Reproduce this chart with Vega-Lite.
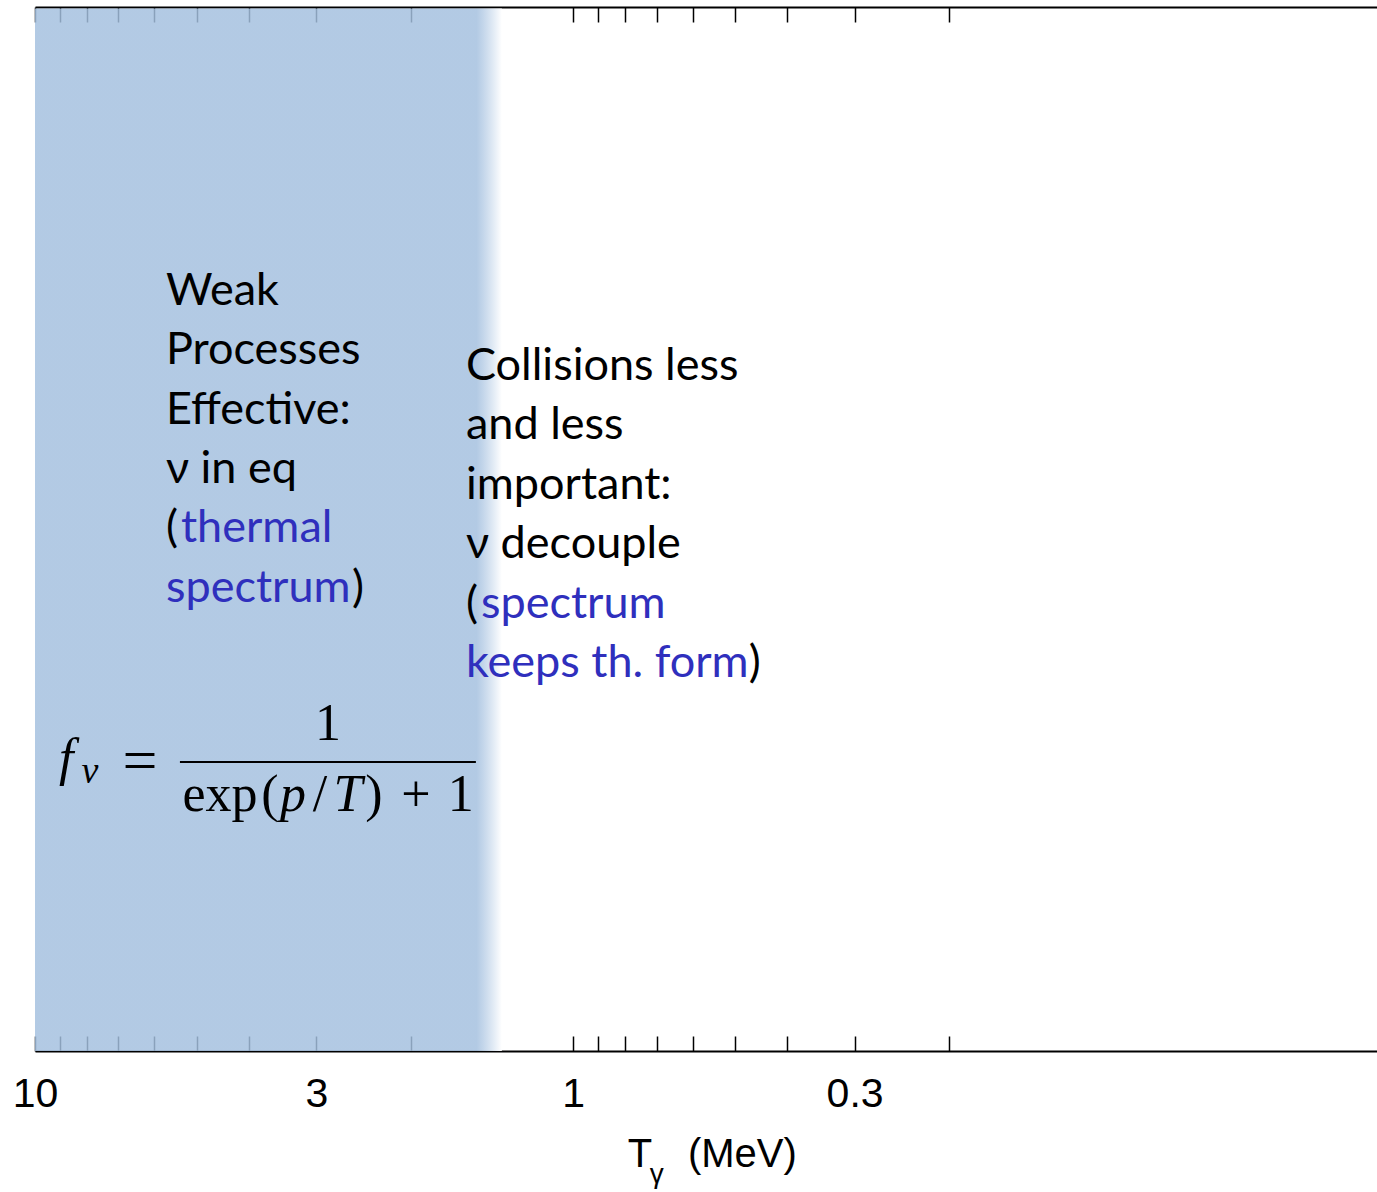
{
  "$schema": "https://vega.github.io/schema/vega-lite/v6.json",
  "width": 1342,
  "height": 1044,
  "autosize": {"type": "none"},
  "padding": {"left": 35, "top": 7, "right": 0, "bottom": 141},
  "background": "white",
  "config": {"view": {"stroke": null}},
  "datasets": {
    "band": [{"start": 10, "end": 1.357, "low": 1.395, "high": 8.477}],
    "notes": [
      {"x": 5.711, "y": 5.075, "text": "Weak", "tone": "plain"},
      {"x": 5.711, "y": 4.582, "text": "Processes", "tone": "plain"},
      {"x": 5.711, "y": 4.13, "text": "Effective:", "tone": "plain"},
      {"x": 5.711, "y": 3.728, "text": "ν in eq", "tone": "plain"},
      {"x": 5.711, "y": 3.367, "text": "(", "tone": "plain"},
      {"x": 5.355, "y": 3.367, "text": "thermal", "tone": "emphasis"},
      {"x": 5.711, "y": 3.035, "text": "spectrum", "tone": "emphasis"},
      {"x": 2.577, "y": 3.035, "text": ")", "tone": "plain"},
      {"x": 1.582, "y": 4.457, "text": "Collisions less", "tone": "plain"},
      {"x": 1.582, "y": 4.021, "text": "and less", "tone": "plain"},
      {"x": 1.582, "y": 3.627, "text": "important:", "tone": "plain"},
      {"x": 1.582, "y": 3.275, "text": "ν decouple", "tone": "plain"},
      {"x": 1.582, "y": 2.954, "text": "(", "tone": "plain"},
      {"x": 1.484, "y": 2.954, "text": "spectrum", "tone": "emphasis"},
      {"x": 1.582, "y": 2.666, "text": "keeps th. form", "tone": "emphasis"},
      {"x": 0.4717, "y": 2.666, "text": ")", "tone": "plain"}
    ],
    "formulaRoman": [
      {"x": 2.855, "y": 2.39, "text": "1"},
      {"x": 4.532, "y": 2.114, "text": "exp"},
      {"x": 3.66, "y": 2.114, "text": "("},
      {"x": 2.955, "y": 2.114, "text": "/"},
      {"x": 2.346, "y": 2.114, "text": ")"},
      {"x": 1.96, "y": 2.114, "text": "+"},
      {"x": 1.617, "y": 2.114, "text": "1"}
    ],
    "formulaEquals": [{"x": 6.381, "y": 2.228, "text": "="}],
    "formulaItalic": [
      {"x": 8.75, "y": 2.25, "text": "f"},
      {"x": 3.317, "y": 2.114, "text": "p"},
      {"x": 2.621, "y": 2.114, "text": "T"}
    ],
    "formulaSub": [{"x": 7.904, "y": 2.219, "text": "ν"}],
    "fractionBar": [{"x": 5.379, "x2": 1.5164, "y": 2.301}],
    "titleMain": [
      {"x": 0.7915, "y": 1.142, "text": "T"},
      {"x": 0.6122, "y": 1.142, "text": "(MeV)"}
    ],
    "titleSub": [{"x": 0.7204, "y": 1.1103, "text": "γ"}]
  },
  "resolve": {"axis": {"x": "independent"}},
  "layer": [
    {
      "data": {"name": "band"},
      "mark": {
        "type": "rect",
        "fill": {
          "gradient": "linear",
          "x1": 0, "x2": 1, "y1": 0, "y2": 0,
          "stops": [
            {"offset": 0, "color": "rgba(164,192,223,0.84)"},
            {"offset": 0.946, "color": "rgba(164,192,223,0.84)"},
            {"offset": 1, "color": "rgba(255,255,255,1)"}
          ]
        }
      },
      "encoding": {
        "x": {
          "field": "start", "type": "quantitative",
          "scale": {"type": "log", "domain": [0.0321, 10], "reverse": true, "nice": false},
          "axis": {
            "orient": "bottom",
            "values": [10, 9, 8, 7, 6, 5, 4, 3, 2, 1, 0.9, 0.8, 0.7, 0.6, 0.5, 0.4, 0.3, 0.2],
            "format": "~g",
            "labelExpr": "datum.value == 10 || datum.value == 3 || datum.value == 1 || datum.value == 0.3 ? datum.label : ''",
            "tickSize": -15, "tickColor": "black", "tickWidth": 1.5,
            "domainColor": "black", "domainWidth": 2,
            "labelFont": "Liberation Sans", "labelFontSize": 41, "labelColor": "black",
            "labelPadding": 38, "labelFlush": false, "labelOverlap": false,
            "grid": false, "title": null
          }
        },
        "x2": {"field": "end"},
        "y": {
          "field": "low", "type": "quantitative",
          "scale": {"type": "log", "domain": [1.395, 8.5], "nice": false},
          "axis": {
            "orient": "left", "values": [2, 3, 4, 5, 7, 8], "labels": false,
            "tickSize": -14, "tickColor": "black", "tickWidth": 1.5,
            "domainColor": "black", "domainWidth": 2, "grid": false, "title": null
          }
        },
        "y2": {"field": "high"}
      }
    },
    {
      "data": {"name": "notes"},
      "mark": {"type": "text", "align": "left", "baseline": "alphabetic", "font": "Lato", "fontSize": 45},
      "encoding": {
        "x": {
          "field": "x", "type": "quantitative",
          "scale": {"type": "log", "domain": [0.0321, 10], "reverse": true, "nice": false},
          "axis": {
            "orient": "top",
            "values": [10, 9, 8, 7, 6, 5, 4, 3, 2, 1, 0.9, 0.8, 0.7, 0.6, 0.5, 0.4, 0.3, 0.2],
            "labels": false, "tickSize": -15, "tickColor": "black", "tickWidth": 1.5,
            "domainColor": "black", "domainWidth": 2, "grid": false, "title": null
          }
        },
        "y": {"field": "y", "type": "quantitative", "scale": {"type": "log", "domain": [1.395, 8.5], "nice": false}, "axis": null},
        "text": {"field": "text"},
        "color": {
          "field": "tone", "type": "nominal",
          "scale": {"domain": ["plain", "emphasis"], "range": ["black", "#2f2fbd"]},
          "legend": null
        }
      }
    },
    {
      "data": {"name": "formulaRoman"},
      "mark": {"type": "text", "align": "center", "baseline": "alphabetic", "font": "Liberation Serif", "fontSize": 52, "color": "black"},
      "encoding": {
        "x": {"field": "x", "type": "quantitative", "scale": {"type": "log", "domain": [0.0321, 10], "reverse": true, "nice": false}, "axis": null},
        "y": {"field": "y", "type": "quantitative", "scale": {"type": "log", "domain": [1.395, 8.5], "nice": false}, "axis": null},
        "text": {"field": "text"}
      }
    },
    {
      "data": {"name": "formulaEquals"},
      "mark": {"type": "text", "align": "center", "baseline": "alphabetic", "font": "Liberation Serif", "fontSize": 62, "color": "black"},
      "encoding": {
        "x": {"field": "x", "type": "quantitative", "scale": {"type": "log", "domain": [0.0321, 10], "reverse": true, "nice": false}, "axis": null},
        "y": {"field": "y", "type": "quantitative", "scale": {"type": "log", "domain": [1.395, 8.5], "nice": false}, "axis": null},
        "text": {"field": "text"}
      }
    },
    {
      "data": {"name": "formulaItalic"},
      "mark": {"type": "text", "align": "center", "baseline": "alphabetic", "font": "Liberation Serif", "fontStyle": "italic", "fontSize": 52, "color": "black"},
      "encoding": {
        "x": {"field": "x", "type": "quantitative", "scale": {"type": "log", "domain": [0.0321, 10], "reverse": true, "nice": false}, "axis": null},
        "y": {"field": "y", "type": "quantitative", "scale": {"type": "log", "domain": [1.395, 8.5], "nice": false}, "axis": null},
        "text": {"field": "text"}
      }
    },
    {
      "data": {"name": "formulaSub"},
      "mark": {"type": "text", "align": "center", "baseline": "alphabetic", "font": "Liberation Serif", "fontStyle": "italic", "fontSize": 38, "color": "black"},
      "encoding": {
        "x": {"field": "x", "type": "quantitative", "scale": {"type": "log", "domain": [0.0321, 10], "reverse": true, "nice": false}, "axis": null},
        "y": {"field": "y", "type": "quantitative", "scale": {"type": "log", "domain": [1.395, 8.5], "nice": false}, "axis": null},
        "text": {"field": "text"}
      }
    },
    {
      "data": {"name": "fractionBar"},
      "mark": {"type": "rule", "color": "black", "strokeWidth": 2},
      "encoding": {
        "x": {"field": "x", "type": "quantitative", "scale": {"type": "log", "domain": [0.0321, 10], "reverse": true, "nice": false}, "axis": null},
        "x2": {"field": "x2"},
        "y": {"field": "y", "type": "quantitative", "scale": {"type": "log", "domain": [1.395, 8.5], "nice": false}, "axis": null}
      }
    },
    {
      "data": {"name": "titleMain"},
      "mark": {"type": "text", "align": "left", "baseline": "alphabetic", "font": "Liberation Sans", "fontSize": 40, "color": "black"},
      "encoding": {
        "x": {"field": "x", "type": "quantitative", "scale": {"type": "log", "domain": [0.0321, 10], "reverse": true, "nice": false}, "axis": null},
        "y": {"field": "y", "type": "quantitative", "scale": {"type": "log", "domain": [1.395, 8.5], "nice": false}, "axis": null},
        "text": {"field": "text"}
      }
    },
    {
      "data": {"name": "titleSub"},
      "mark": {"type": "text", "align": "left", "baseline": "alphabetic", "font": "Liberation Sans", "fontSize": 28, "color": "black"},
      "encoding": {
        "x": {"field": "x", "type": "quantitative", "scale": {"type": "log", "domain": [0.0321, 10], "reverse": true, "nice": false}, "axis": null},
        "y": {"field": "y", "type": "quantitative", "scale": {"type": "log", "domain": [1.395, 8.5], "nice": false}, "axis": null},
        "text": {"field": "text"}
      }
    }
  ]
}
